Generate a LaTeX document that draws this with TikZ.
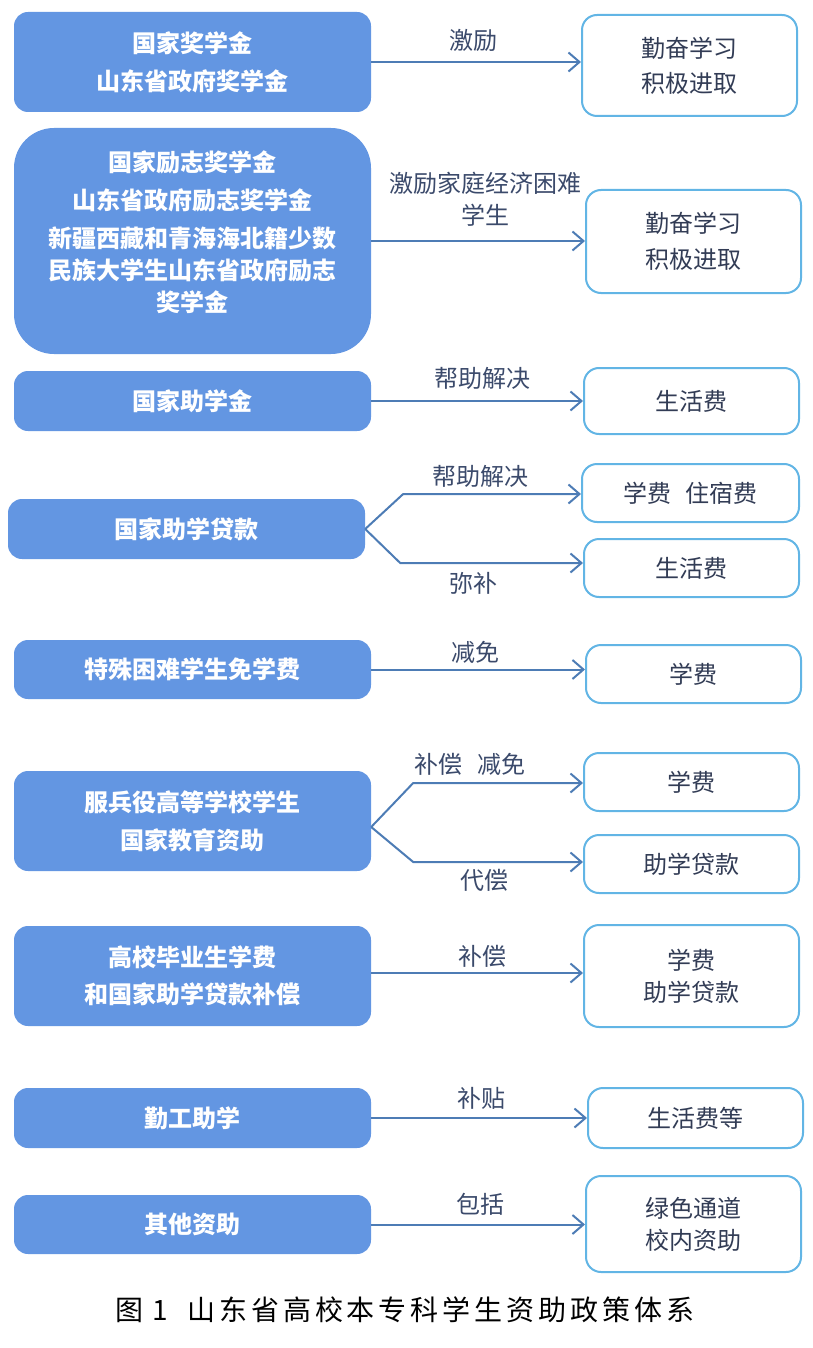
\documentclass[tikz,border=0pt]{standalone}
\usepackage{fontspec}
\newfontfamily\cjk{Noto Sans CJK SC}
\usetikzlibrary{arrows.meta}
\definecolor{lfill}{RGB}{99,150,226}
\definecolor{arrowc}{RGB}{77,124,181}
\definecolor{rborder}{RGB}{98,181,229}
\definecolor{labc}{RGB}{59,74,107}
\definecolor{rtext}{RGB}{50,60,85}
\tikzset{
  lbox/.style={fill=lfill, draw=none, rounded corners=14pt, minimum width=357pt, inner sep=0pt,
    text=white, align=center, font=\cjk\bfseries\fontsize{24}{38}\selectfont},
  rbox/.style={fill=white, draw=rborder, line width=2pt, rounded corners=15pt, minimum width=215pt, inner sep=0pt,
    text=rtext, align=center, font=\cjk\fontsize{24}{35}\selectfont},
  lab/.style={text=labc, align=center, inner sep=0pt, font=\cjk\fontsize{24}{32}\selectfont},
  arr/.style={draw=arrowc, line width=2pt, -{Straight Barb[length=11pt,width=19pt,line width=2pt]}}
}
\begin{document}
\begin{tikzpicture}[x=1pt,y=-1pt]
\useasboundingbox (0,0) rectangle (812,1348);
% left boxes
\node[lbox, minimum height=100pt] (L1) at (192.5,62) {国家奖学金\\山东省政府奖学金};
\node[lbox, minimum height=226pt, rounded corners=40pt] (L2) at (192.5,241) {};
\node[lbox, fill=none, minimum width=0pt, font=\cjk\bfseries\fontsize{24}{32}\selectfont] (L2t) at (192.5,232)
  {国家励志奖学金\\[6pt]山东省政府励志奖学金\\[6pt]新疆西藏和青海海北籍少数\\民族大学生山东省政府励志\\奖学金};
\node[lbox, minimum height=60pt] (L3) at (192.5,401) {国家助学金};
\node[lbox, minimum height=60pt] (L4) at (186.5,529) {国家助学贷款};
\node[lbox, minimum height=59pt] (L5) at (192.5,669.5) {特殊困难学生免学费};
\node[lbox, minimum height=100pt] (L6) at (192.5,821) {服兵役高等学校学生\\国家教育资助};
\node[lbox, minimum height=100pt, font=\cjk\bfseries\fontsize{24}{37}\selectfont] (L7) at (192.5,976) {高校毕业生学费\\和国家助学贷款补偿};
\node[lbox, minimum height=60pt] (L8) at (192.5,1118) {勤工助学};
\node[lbox, minimum height=59pt] (L9) at (192.5,1224.5) {其他资助};
% right boxes
\node[rbox, minimum height=101pt] (R1) at (689.5,65.5) {勤奋学习\\积极进取};
\node[rbox, minimum height=103pt, font=\cjk\fontsize{24}{36}\selectfont] (R2) at (693.5,241.5) {勤奋学习\\积极进取};
\node[rbox, minimum height=66pt] (R3) at (691.5,401) {生活费};
\node[rbox, minimum height=58pt, minimum width=217pt] (R4) at (690.5,493) {学费\hspace{0.6em}住宿费};
\node[rbox, minimum height=58pt] (R5) at (691.5,568) {生活费};
\node[rbox, minimum height=58pt] (R6) at (693.5,674) {学费};
\node[rbox, minimum height=58pt] (R7) at (691.5,782) {学费};
\node[rbox, minimum height=58pt] (R8) at (691.5,864) {助学贷款};
\node[rbox, minimum height=102pt, font=\cjk\fontsize{24}{32}\selectfont] (R9) at (691.5,976) {学费\\助学贷款};
\node[rbox, minimum height=60pt] (R10) at (695.5,1118) {生活费等};
\node[rbox, minimum height=96pt, font=\cjk\fontsize{24}{32}\selectfont] (R11) at (693.5,1224) {绿色通道\\校内资助};
% connectors
\draw[arr] (L1.east) -- (L1.east -| R1.west);
\draw[arr] (L2.east) -- (L2.east -| R2.west);
\draw[arr] (L3.east) -- (L3.east -| R3.west);
\draw[arr] (L4.east) -- ++(38,-35) coordinate (b4a) -- (b4a -| R4.west);
\draw[arr] (L4.east) -- ++(35,34) coordinate (b4b) -- (b4b -| R5.west);
\draw[arr] (L5.east) -- (L5.east -| R6.west);
\coordinate (s6) at ([yshift=-6pt]L6.east);
\draw[arr] (s6) -- ++(42,-44) coordinate (b6a) -- (b6a -| R7.west);
\draw[arr] (s6) -- ++(42,35) coordinate (b6b) -- (b6b -| R8.west);
\draw[arr] ([yshift=3pt]L7.east) coordinate (s7) -- (s7 -| R9.west);
\draw[arr] (L8.east) -- (L8.east -| R10.west);
\draw[arr] (L9.east) -- (L9.east -| R11.west);
% labels
\node[lab] (t1) at (473,40) {激励};
\node[lab] (t2) at (485,199) {激励家庭经济困难\\学生};
\node[lab] (t3) at (482,378) {帮助解决};
\node[lab] (t4a) at (480,476) {帮助解决};
\node[lab] (t4b) at (473,583) {弥补};
\node[lab] (t5) at (475,652) {减免};
\node[lab] (t6a) at (470,764) {补偿\hspace{0.6em}减免};
\node[lab] (t6b) at (484,880) {代偿};
\node[lab] (t7) at (482,956) {补偿};
\node[lab] (t8) at (481,1098) {补贴};
\node[lab] (t9) at (480,1204) {包括};
% caption
\node[inner sep=0pt, font=\cjk\fontsize{28}{32}\selectfont, text=black] (cap) at (405,1310)
  {图\hspace{0.3em}1\hspace{0.7em}\addfontfeatures{LetterSpace=14}山东省高校本专科学生资助政策体系};
\end{tikzpicture}
\end{document}
